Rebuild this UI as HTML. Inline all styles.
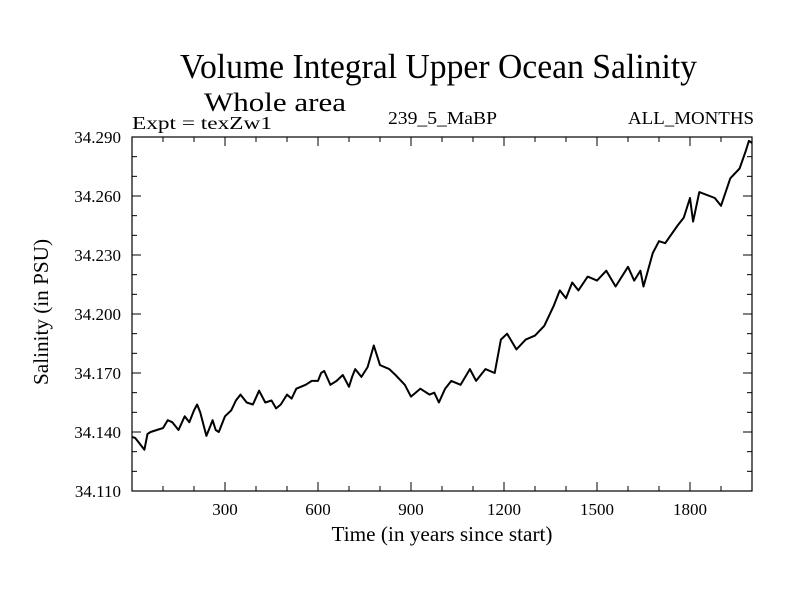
<!DOCTYPE html>
<html><head><meta charset="utf-8"><style>body{margin:0;background:#fff}svg{display:block}text{font-family:"Liberation Serif",serif;fill:#000}</style></head>
<body>
<svg id="chart" width="800" height="600">
<text x="180" y="78" font-size="35" textLength="517" lengthAdjust="spacingAndGlyphs">Volume Integral Upper Ocean Salinity</text>
<text x="204" y="111" font-size="26" textLength="142" lengthAdjust="spacingAndGlyphs">Whole area</text>
<text x="132" y="129" font-size="18" textLength="140" lengthAdjust="spacingAndGlyphs">Expt = texZw1</text>
<text x="388" y="124" font-size="18" textLength="109" lengthAdjust="spacingAndGlyphs">239_5_MaBP</text>
<text x="628" y="124" font-size="18" textLength="126" lengthAdjust="spacingAndGlyphs">ALL_MONTHS</text>
<text x="442" y="541" font-size="21" text-anchor="middle" textLength="221" lengthAdjust="spacingAndGlyphs">Time (in years since start)</text>
<text transform="translate(48,312) rotate(-90)" font-size="21" text-anchor="middle" textLength="146" lengthAdjust="spacingAndGlyphs">Salinity (in PSU)</text>
<g id="axes"></g>
<path id="series" fill="none" stroke="#000" stroke-width="2" stroke-linejoin="round"></path>
<rect x="132" y="137" width="620" height="354" fill="none" stroke="#000" stroke-width="1.2"></rect>
</svg>
<script>
const years=[0,10,20,30,40,50,60,80,100,115,130,150,170,185,200,210,220,240,250,260,270,280,300,320,335,350,370,390,410,430,450,465,480,500,515,530,560,580,600,610,620,640,660,680,700,710,720,740,760,780,790,800,830,850,880,900,930,960,975,990,1010,1030,1060,1090,1110,1140,1170,1190,1210,1240,1270,1300,1330,1360,1380,1400,1420,1440,1470,1500,1530,1560,1600,1620,1640,1650,1680,1700,1720,1760,1780,1800,1810,1830,1880,1900,1930,1960,1980,1990,2000];
const salinity=[34.1375,34.137,34.135,34.133,34.131,34.139,34.140,34.141,34.142,34.146,34.145,34.141,34.148,34.145,34.151,34.154,34.150,34.138,34.142,34.146,34.141,34.140,34.148,34.151,34.156,34.159,34.155,34.154,34.161,34.155,34.156,34.152,34.154,34.159,34.157,34.162,34.164,34.166,34.166,34.170,34.171,34.164,34.166,34.169,34.163,34.168,34.172,34.168,34.173,34.184,34.179,34.174,34.172,34.169,34.164,34.158,34.162,34.159,34.160,34.155,34.162,34.166,34.164,34.172,34.166,34.172,34.170,34.187,34.190,34.182,34.187,34.189,34.194,34.204,34.212,34.208,34.216,34.212,34.219,34.217,34.222,34.214,34.224,34.217,34.222,34.214,34.231,34.237,34.236,34.245,34.249,34.259,34.247,34.262,34.259,34.255,34.269,34.274,34.283,34.288,34.287];
const xTicks=[300,600,900,1200,1500,1800];
const yTicks=[34.110,34.140,34.170,34.200,34.230,34.260,34.290];
const X0=132,X1=752,Y0=491,Y1=137;
const sx=v=>X0+(v-0)/2000*(X1-X0);
const sy=v=>Y0-(v-34.11)/0.18*(Y0-Y1);
const ns="http://www.w3.org/2000/svg";
const g=document.getElementById('axes');
function ln(x1,y1,x2,y2,name){const l=document.createElementNS(ns,'line');l.setAttribute('x1',x1);l.setAttribute('y1',y1);l.setAttribute('x2',x2);l.setAttribute('y2',y2);l.setAttribute('stroke','#000');


g.appendChild(l);}
function tx(x,y,s,anchor,name){const t=document.createElementNS(ns,'text');t.setAttribute('x',x);t.setAttribute('y',y);t.setAttribute('font-size','17');t.setAttribute('text-anchor',anchor);t.textContent=s;


g.appendChild(t);}
for(let v=100;v<2000;v+=100){const x=sx(v);const L=(v%300===0)?9:5;ln(x,Y0,x,Y0-L,'x-tick');ln(x,Y1,x,Y1+L,'x-tick');}
xTicks.forEach(v=>tx(sx(v),515,String(v),'middle','x-tick-label'));
for(let k=1;k<18;k++){const v=34.11+k*0.01;const y=sy(v);const L=(k%3===0)?9:5;ln(X0,y,X0+L,y,'y-tick');ln(X1,y,X1-L,y,'y-tick');}
yTicks.forEach(v=>tx(121,sy(v)+6,v.toFixed(3),'end','y-tick-label'));
document.getElementById('series').setAttribute('d',years.map((v,i)=>(i?'L':'M')+sx(v).toFixed(1)+','+sy(salinity[i]).toFixed(1)).join(''));
</script>
</body></html>
